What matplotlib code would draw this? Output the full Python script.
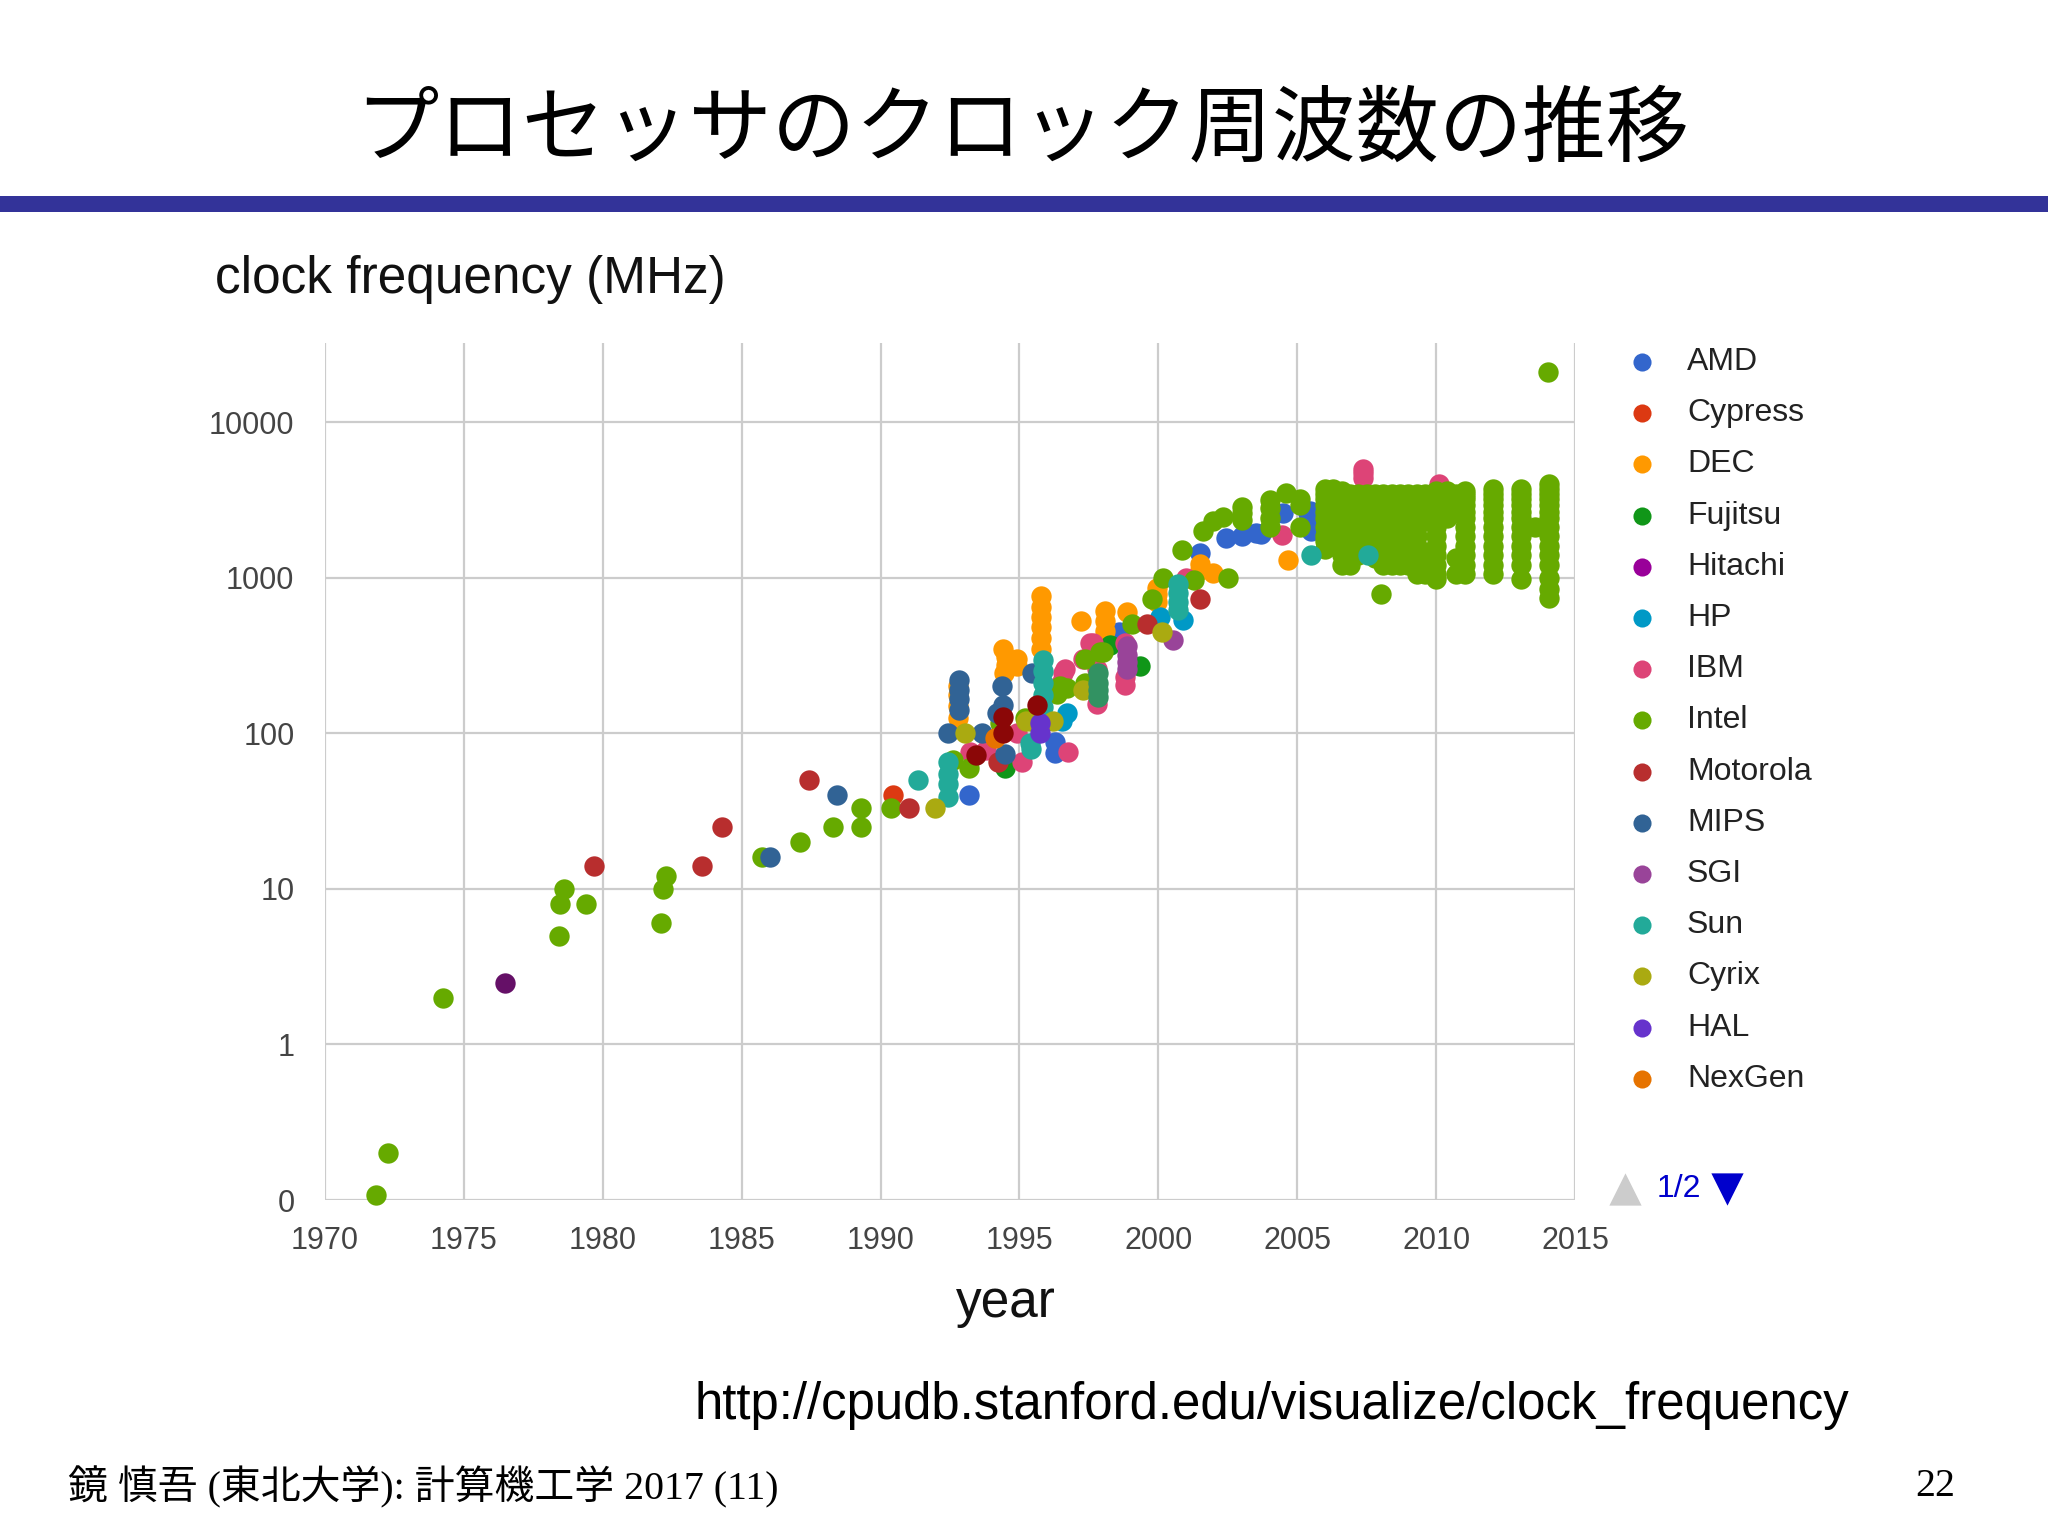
import matplotlib
matplotlib.use("Agg")
import matplotlib.pyplot as plt
from matplotlib.patches import Rectangle
from matplotlib.ticker import FixedLocator, NullLocator

# ── legend (page 1 of 2) ─────────────────────────────────────────────────────
companies = ["AMD", "Cypress", "DEC", "Fujitsu", "Hitachi", "HP", "IBM", "Intel",
             "Motorola", "MIPS", "SGI", "Sun", "Cyrix", "HAL", "NexGen"]
colors = ["#3366cc", "#dc3912", "#ff9900", "#109618", "#990099", "#0099c6",
          "#dd4477", "#66aa00", "#b82e2e", "#316395", "#994499", "#22aa99",
          "#aaaa11", "#6633cc", "#e67300"]
# series from legend page 2 (not listed on this page)
page2_colors = ["#8b0707", "#651067", "#329262"]

# ── data: (year, clock MHz) ─────────────────────────────────────────────────
amd = [(1993.19, 40), (1996.28, 88), (1996.28, 75), (1998.6, 450), (2001.5, 1440),
       (2002.45, 1800), (2003.0, 1860), (2003.5, 1930), (2003.7, 1900),
       (2004.5, 2600), (2005.4, 2600), (2005.46, 2700), (2005.5, 2000), (2005.6, 2230)]
cypress = [(1990.43, 40)]
dec = [(1992.8, 125), (1992.8, 150), (1992.8, 175), (1992.8, 200),
       (1994.4, 350), (1994.5, 310), (1994.5, 275), (1994.45, 245), (1994.9, 300), (1994.9, 270),
       (1995.76, 760), (1995.76, 650), (1995.76, 560), (1995.76, 480), (1995.76, 410), (1995.76, 350),
       (1997.2, 530), (1998.08, 610), (1998.08, 525), (1998.08, 455), (1998.86, 600),
       (1999.94, 860), (1999.94, 780), (1999.94, 700), (2001.5, 1230), (2001.5, 1120),
       (2001.97, 1070), (2004.66, 1300)]
fujitsu = [(1994.47, 60), (1998.26, 370), (1999.34, 270)]
hitachi = []
hp = [(1996.55, 120), (1996.7, 134), (2000.06, 560), (2000.9, 535)]
ibm = [(1993.22, 76), (1993.8, 78), (1994.9, 100), (1995.1, 65), (1996.5, 210),
       (1996.58, 243), (1996.64, 258), (1996.76, 76), (1997.3, 300), (1997.54, 380),
       (1997.66, 380), (1997.78, 154), (1997.78, 200), (1997.78, 258), (1998.8, 380),
       (1998.8, 230), (1998.8, 205), (2001.0, 1000), (2004.44, 1880),
       (2007.38, 5000), (2007.38, 4700), (2007.38, 4400), (2010.1, 4000)]
intel = [(1971.83, 0.108), (1972.26, 0.2), (1974.23, 2), (1978.42, 5), (1978.46, 8),
         (1978.6, 10), (1979.4, 8), (1982.08, 6), (1982.18, 10), (1982.27, 12),
         (1985.72, 16), (1987.1, 20), (1988.27, 25), (1989.28, 25), (1989.28, 33),
         (1990.36, 33), (1992.62, 67), (1993.2, 60), (1994.3, 117), (1995.2, 125),
         (1995.4, 120), (1996.34, 180), (1996.46, 200), (1996.7, 195), (1997.36, 300),
         (1997.36, 210), (1997.9, 333), (1998.0, 333), (1999.04, 500), (1999.76, 733),
         (2000.18, 1000), (2000.84, 1500), (2001.3, 970), (2001.62, 2000), (2001.96, 2300),
         (2002.34, 2450), (2002.52, 1000), (2003.0, 2850), (2003.0, 2600), (2003.0, 2350),
         (2004.02, 3150), (2004.02, 2800), (2004.02, 2400), (2004.02, 2130), (2004.6, 3500),
         (2005.1, 3200), (2005.1, 2930), (2005.1, 2130), (2008.0, 790), (2013.55, 2130),
         (2014.03, 21000)]
# multi-core era: many SKUs per release date
intel_cols = [
    (2006.0, [1530, 1730, 1860, 2130, 2400, 2660, 2930, 3200, 3460, 3700]),
    (2006.3, [1600, 1860, 2130, 2400, 2660, 2930, 3200, 3460, 3700]),
    (2006.6, [1200, 1400, 1600, 1860, 2130, 2400, 2660, 2930, 3200, 3460, 3600]),
    (2006.9, [1200, 1330, 1600, 1860, 2130, 2400, 2660, 2930, 3200, 3460]),
    (2007.2, [1400, 1600, 1860, 2130, 2400, 2660, 2930, 3200, 3460]),
    (2007.5, [1460, 1600, 1860, 2130, 2400, 2660, 2930, 3200, 3460]),
    (2007.8, [1330, 1600, 1860, 2130, 2400, 2660, 2930, 3160, 3460]),
    (2008.1, [1200, 1400, 1600, 1860, 2130, 2400, 2660, 2930, 3200, 3460]),
    (2008.4, [1200, 1400, 1600, 1860, 2130, 2400, 2660, 2930, 3200, 3460]),
    (2008.7, [1200, 1400, 1600, 1860, 2130, 2400, 2660, 2930, 3200, 3460]),
    (2009.0, [1200, 1330, 1600, 1860, 2130, 2400, 2660, 2930, 3200, 3460]),
    (2009.3, [1060, 1200, 1400, 1600, 1860, 2130, 2400, 2660, 2930, 3200, 3460]),
    (2009.6, [1060, 1200, 1400, 2400, 2660, 2930, 3200, 3460]),
    (2010.0, [980, 1060, 1200, 1400, 1600, 1860, 2130, 2400, 2660, 2930, 3200, 3460, 3600]),
    (2010.4, [2400, 2660, 2930, 3200, 3460, 3600]),
    (2010.7, [1060, 1330, 2660, 2930, 3200, 3460]),
    (2011.05, [1060, 1200, 1400, 1600, 1860, 2130, 2400, 2660, 2930, 3200, 3400, 3600]),
    (2012.05, [1060, 1200, 1400, 1600, 1860, 2130, 2400, 2660, 2930, 3200, 3460, 3700]),
    (2013.05, [980, 1200, 1400, 1600, 1860, 2130, 2400, 2660, 2930, 3200, 3460, 3700]),
    (2014.05, [740, 850, 1000, 1200, 1400, 1600, 1860, 2130, 2400, 2660, 2930, 3200,
               3460, 3700, 4000]),
]
motorola = [(1979.68, 14), (1983.56, 14), (1984.28, 25), (1987.43, 50), (1991.03, 33),
            (1994.24, 65), (1999.58, 500), (2001.5, 725)]
mips = [(1986.02, 16), (1988.44, 40), (1992.44, 100), (1992.84, 220), (1992.84, 190),
        (1992.84, 165), (1992.84, 140), (1993.64, 100), (1994.18, 134), (1994.36, 200),
        (1994.42, 152), (1994.47, 74), (1995.44, 243)]
sgi = [(1998.86, 363), (1998.86, 320), (1998.86, 285), (1998.86, 258), (2000.54, 400)]
sun = [(1991.36, 50), (1992.44, 65), (1992.44, 55), (1992.44, 47), (1992.44, 39),
       (1995.38, 86), (1995.4, 79), (1995.85, 295), (1995.85, 250), (1995.85, 210),
       (1995.85, 175), (1995.85, 148), (2000.72, 910), (2000.72, 800), (2000.72, 700),
       (2000.72, 615), (2005.5, 1400), (2007.54, 1400)]
cyrix = [(1991.96, 33), (1993.04, 100), (1995.25, 120), (1996.22, 120), (1997.3, 190),
         (2000.12, 450)]
hal = [(1995.74, 117), (1995.74, 100)]
nexgen = [(1994.12, 93)]
page2_a = [(1993.44, 72), (1994.42, 128), (1994.42, 100), (1995.62, 152)]
page2_b = [(1976.49, 2.47)]
page2_c = [(1997.84, 243), (1997.84, 210), (1997.84, 190), (1997.84, 170)]

intel_all = intel + [(yr, v) for yr, vals in intel_cols for v in vals]
series = [amd, cypress, dec, fujitsu, hitachi, hp, ibm, intel_all, motorola, mips,
          sgi, sun, cyrix, hal, nexgen, page2_a, page2_b, page2_c]
series_colors = colors + page2_colors

year_ticks = [1970, 1975, 1980, 1985, 1990, 1995, 2000, 2005, 2010, 2015]
mhz_ticks = [0.1, 1, 10, 100, 1000, 10000]
mhz_labels = ["0", "1", "10", "100", "1000", "10000"]

SANS = "Liberation Sans"
DOT = 215

# ── figure ──────────────────────────────────────────────────────────────────
fig = plt.figure(figsize=(20.48, 15.36), dpi=100)
fig.patch.set_facecolor("white")

# pixel-space overlay for slide text
ov = fig.add_axes([0, 0, 1, 1])
ov.set_xlim(0, 2048)
ov.set_ylim(1536, 0)
ov.axis("off")

ov.text(1022, 130, "プロセッサのクロック周波数の推移", fontsize=60,
        family="Noto Sans CJK JP", ha="center", va="center", color="black")
ov.add_patch(Rectangle((0, 196), 2048, 16, facecolor="#333399", edgecolor="none"))

ov.text(215, 280, "clock frequency (MHz)", fontsize=37, family=SANS,
        ha="left", va="center", color="#111111")
ov.text(1006, 1304, "year", fontsize=37, family=SANS, ha="center", va="center",
        color="#111111")
ov.text(695, 1405, "http://cpudb.stanford.edu/visualize/clock_frequency", fontsize=36.7,
        family=SANS, ha="left", va="center", color="black")
ov.text(68, 1487, "鏡 慎吾 (東北大学): 計算機工学 2017 (11)", fontsize=28.7,
        family=["Liberation Serif", "Noto Sans CJK JP"], ha="left", va="center",
        color="black")
ov.text(1955, 1487, "22", fontsize=28.7, family="Liberation Serif", ha="right",
        va="center", color="black")

# legend
for i, (name, c) in enumerate(zip(companies, colors)):
    y = 362 + i * 51.2
    ov.scatter([1642], [y], s=170, color=c, linewidths=0)
    ov.text(1687, y, name, fontsize=23, family=SANS, ha="left", va="center",
            color="#222222")
ov.scatter([1625], [1189], marker="^", s=540, color="#cccccc", linewidths=0)
ov.text(1657, 1189, "1/2", fontsize=23, family=SANS, ha="left", va="center",
        color="#0000cc")
ov.scatter([1727], [1189], marker="v", s=540, color="#0000cc", linewidths=0)

# ── chart ───────────────────────────────────────────────────────────────────
ax = fig.add_axes([325 / 2048, 1 - 1200 / 1536, 1250 / 2048, 857 / 1536])
ax.patch.set_alpha(0)
ax.set_yscale("log")
ax.set_xlim(1970, 2015)
ax.set_ylim(0.1, 10 ** 4.508)

for pts, c in zip(series, series_colors):
    if not pts:
        continue
    xs = [p[0] for p in pts]
    ys = [p[1] for p in pts]
    ax.scatter(xs, ys, s=DOT, color=c, linewidths=0, zorder=3, clip_on=False)

ax.xaxis.set_major_locator(FixedLocator(year_ticks))
ax.yaxis.set_major_locator(FixedLocator(mhz_ticks))
ax.yaxis.set_minor_locator(NullLocator())
ax.set_xticklabels([str(y) for y in year_ticks])
ax.set_yticklabels(mhz_labels)
ax.grid(True, color="#cccccc", linewidth=1.6, zorder=0)
ax.set_axisbelow(True)
for s in ax.spines.values():
    s.set_visible(False)
ax.tick_params(length=0, labelsize=22, labelcolor="#444444")
ax.tick_params(axis="y", pad=22)
ax.tick_params(axis="x", pad=19)
for lab in ax.get_xticklabels() + ax.get_yticklabels():
    lab.set_family(SANS)

fig.savefig("out.png", dpi=100, facecolor="white")
